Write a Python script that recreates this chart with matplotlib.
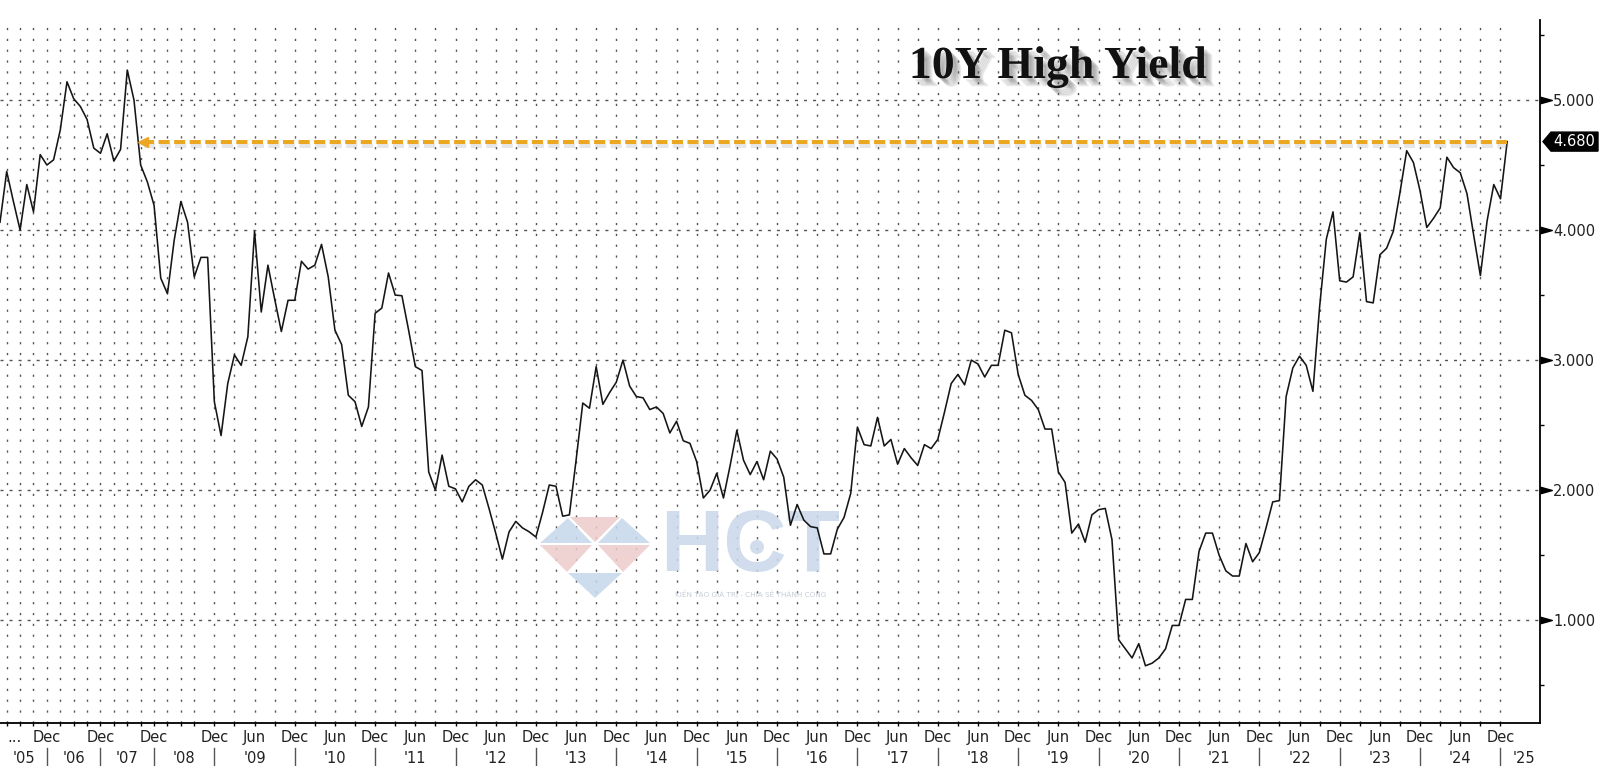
import numpy as np
import matplotlib
matplotlib.use("Agg")
import matplotlib.pyplot as plt
import matplotlib.patheffects as pe
from matplotlib.patches import Polygon, Circle
from matplotlib.transforms import IdentityTransform
from matplotlib.ticker import FormatStrFormatter

plt.rcParams["lines.scale_dashes"] = False
plt.rcParams["font.family"] = ["DejaVu Sans"]

# 10Y Treasury auction high yield, one value per auction (early 2005 -> Jan 2025)
yields = [
    4.06, 4.45, 4.22, 4.00, 4.35, 4.14, 4.58, 4.50, 4.54, 4.77,
    5.14, 5.01, 4.95, 4.85, 4.63, 4.59, 4.74, 4.53, 4.62, 5.23,
    5.00, 4.50, 4.37, 4.19, 3.63, 3.51, 3.92, 4.22, 4.06, 3.64,
    3.79, 3.79, 2.68, 2.42, 2.82, 3.04, 2.96, 3.18, 3.99, 3.37,
    3.73, 3.47, 3.22, 3.46, 3.46, 3.76, 3.70, 3.73, 3.89, 3.64,
    3.23, 3.12, 2.73, 2.68, 2.49, 2.64, 3.36, 3.40, 3.67, 3.50,
    3.495, 3.23, 2.95, 2.92, 2.14, 2.00, 2.27, 2.03, 2.01, 1.91,
    2.03, 2.08, 2.04, 1.86, 1.67, 1.47, 1.68, 1.76, 1.71, 1.68,
    1.64, 1.83, 2.04, 2.03, 1.80, 1.81, 2.23, 2.67, 2.63, 2.95,
    2.66, 2.75, 2.83, 3.00, 2.80, 2.72, 2.71, 2.62, 2.64, 2.59,
    2.44, 2.53, 2.38, 2.36, 2.22, 1.94, 2.00, 2.13, 1.94, 2.19,
    2.46, 2.23, 2.12, 2.22, 2.08, 2.30, 2.24, 2.10, 1.73, 1.89,
    1.77, 1.72, 1.71, 1.51, 1.51, 1.70, 1.79, 1.975, 2.485, 2.35,
    2.34, 2.56, 2.34, 2.39, 2.20, 2.32, 2.25, 2.19, 2.35, 2.32,
    2.39, 2.60, 2.82, 2.89, 2.81, 3.00, 2.97, 2.87, 2.96, 2.96,
    3.23, 3.21, 2.89, 2.73, 2.69, 2.62, 2.47, 2.47, 2.14, 2.06,
    1.67, 1.74, 1.60, 1.81, 1.85, 1.86, 1.62, 0.85, 0.78, 0.71,
    0.82, 0.65, 0.67, 0.71, 0.78, 0.96, 0.96, 1.16, 1.16, 1.53,
    1.67, 1.67, 1.50, 1.38, 1.34, 1.34, 1.59, 1.45, 1.52, 1.71,
    1.91, 1.92, 2.72, 2.94, 3.03, 2.96, 2.76, 3.41, 3.93, 4.14,
    3.61, 3.60, 3.64, 3.98, 3.45, 3.44, 3.81, 3.86, 3.99, 4.29,
    4.61, 4.52, 4.30, 4.02, 4.09, 4.17, 4.56, 4.48, 4.44, 4.28,
    3.96, 3.65, 4.07, 4.35, 4.24, 4.68,
]
last_label = "4.680"
title = "10Y High Yield"

# x axis: one step per auction
dec_idx = [7, 15, 23, 32] + list(range(44, 225, 12))
jun_idx = list(range(38, 219, 12))
year_labels = ["'%02d" % y for y in range(5, 26)]
year_idx = [3.5, 11, 19, 27.5] + list(range(38, 219, 12)) + [227.5]
grid_idx = list(range(1, 30, 2)) + list(range(32, 225, 3))

x = np.arange(len(yields))

fig = plt.figure(figsize=(16, 7.66), dpi=100)
ax = fig.add_axes([0, 43 / 766, 1540 / 1600, 703 / 766])
ax.set_autoscale_on(False)

ax.plot(x, yields, color="#151515", lw=1.15, zorder=4)

# level of the latest auction, arrow back to 2007
arrow_start = 21.3
ax.plot([arrow_start, x[-1]], [yields[-1], yields[-1]], color="#EBA622", lw=2.9,
        dashes=(8, 3.2), zorder=5, solid_capstyle="butt",
        path_effects=[pe.SimpleLineShadow(offset=(1, -3), shadow_color="#888888", alpha=0.2),
                      pe.Normal()])
ax.plot([arrow_start], [yields[-1]], marker="<", ms=7, color="#EBA622", zorder=5)

ax.set_xlim(0, len(yields) + 3.9)
ax.set_ylim(0.21, 5.615)

# grids
ax.set_xticks([])
ax.set_xticks(grid_idx, minor=True)
ax.tick_params(axis="x", which="minor", direction="out", length=2.5, width=1,
               color="black", labelbottom=False)
ax.xaxis.grid(True, which="minor", color="#555555", lw=1.0, linestyle=(0, (1.6, 6.2)))

ax.yaxis.tick_right()
ax.set_yticks([1, 2, 3, 4, 5])
ax.set_yticks([0.5, 1.5, 2.5, 3.5, 4.5, 5.5], minor=True)
ax.yaxis.set_major_formatter(FormatStrFormatter("%.3f"))
ax.tick_params(axis="y", which="major", length=0, pad=9.5, labelsize=10.5, labelcolor="#222222")
ax.tick_params(axis="y", which="minor", direction="out", length=3, width=1, color="black")
ax.yaxis.grid(True, which="major", color="#555555", lw=1.0, linestyle=(0, (2.2, 4.3)))

for s in ["left", "top"]:
    ax.spines[s].set_visible(False)
for s in ["right", "bottom"]:
    ax.spines[s].set_linewidth(1.3)
    ax.spines[s].set_color("black")

# arrow-shaped major ticks on the right axis
tri = [(0, 0.28), (1, 0), (0, -0.28)]
ax.plot([1] * 5, [1, 2, 3, 4, 5], transform=ax.get_yaxis_transform(), marker=tri,
        ms=17, color="black", ls="none", clip_on=False)

# x labels, two rows
xt = ax.get_xaxis_transform()
row1, row2 = -0.0213, -0.0498
ax.text(2.2, row1, "...", transform=xt, ha="center", va="center", fontsize=10.5, color="#222222")
for d in dec_idx:
    ax.text(d, row1, "Dec", transform=xt, ha="center", va="center", fontsize=10.5, color="#222222")
    ax.plot([d, d], [-0.0356, -0.0597], transform=xt, color="#555555", lw=1, clip_on=False)
for j in jun_idx:
    ax.text(j, row1, "Jun", transform=xt, ha="center", va="center", fontsize=10.5, color="#222222")
for lab, p in zip(year_labels, year_idx):
    ax.text(p, row2, lab, transform=xt, ha="center", va="center", fontsize=10.5, color="#222222")

# last value tag
x0, y0 = ax.get_yaxis_transform().transform((1.0, yields[-1]))
tag = [(x0 + 3, y0), (x0 + 11, y0 + 9.5), (x0 + 58, y0 + 9.5), (x0 + 58, y0 - 9.5), (x0 + 11, y0 - 9.5)]
fig.add_artist(Polygon(tag, closed=True, transform=IdentityTransform(), fc="black", ec="black"))
fig.text(x0 + 34, y0, last_label, transform=IdentityTransform(), ha="center", va="center",
         fontsize=10.5, color="white")

# title with soft shadow
shadow = [pe.SimplePatchShadow(offset=(o, -o), shadow_rgbFace="#555555", alpha=0.12) for o in (2, 3, 4, 5, 6)]
fig.text(1058 / 1600, 688 / 766, title, family="Liberation Serif", weight="bold", size=33,
         ha="center", va="baseline", color="#111111", path_effects=shadow + [pe.Normal()])

# watermark
H = 766
blue, pink = "#C6D7EA", "#EDCACA"
tris = [
    ([(568, 518), (540, 543), (592, 543)], blue),
    ([(570, 517), (620, 517), (595, 542)], pink),
    ([(622, 518), (598, 543), (650, 543)], blue),
    ([(540, 545), (592, 545), (567, 572)], pink),
    ([(598, 545), (650, 545), (623, 572)], pink),
    ([(568, 573), (622, 573), (595, 598)], blue),
]
for pts, c in tris:
    ax.add_patch(Polygon([(px, H - py) for px, py in pts], closed=True, transform=IdentityTransform(),
                         fc=c, ec="none", alpha=0.85, zorder=2))
ax.text(750, H - 549, "HCT", transform=IdentityTransform(), ha="center", va="center",
        family="Liberation Sans", weight="bold", fontsize=63, color="#C9D8EA", alpha=0.85, zorder=2)
ax.add_patch(Circle((757, H - 547), 7, transform=IdentityTransform(), fc="#C9D8EA", ec="none",
                    alpha=0.85, zorder=2))
ax.text(751, H - 594, "KIẾN TẠO GIÁ TRỊ - CHIA SẺ THÀNH CÔNG", transform=IdentityTransform(),
        ha="center", va="center", fontsize=5.2, color="#C5CCD6", zorder=2)

fig.savefig("out.png", dpi=100)
